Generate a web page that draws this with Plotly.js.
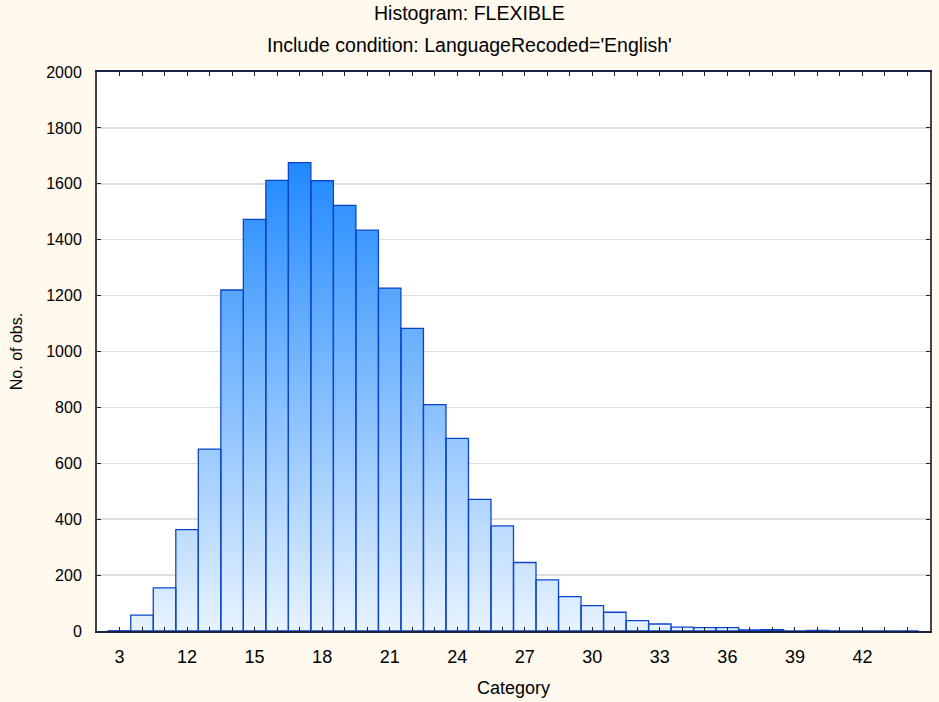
<!DOCTYPE html>
<html>
<head>
<meta charset="utf-8">
<script src="https://cdn.plot.ly/plotly-3.0.1.min.js"></script>
<style>
  html, body { margin: 0; padding: 0; background: #fff9ee; }
  #chart { width: 939px; height: 702px; }
</style>
</head>
<body>
<div id="chart"></div>
<script>
// Histogram categories (bin centres) and counts
const categories = [9, 10, 11, 12, 13, 14, 15, 16, 17, 18, 19, 20, 21, 22, 23, 24, 25, 26,
                    27, 28, 29, 30, 31, 32, 33, 34, 35, 36, 37, 38, 39, 40, 41, 42, 43, 44];
const counts = [1, 57, 154, 363, 651, 1220, 1473, 1612, 1676, 1611, 1523, 1434, 1227, 1083,
                810, 689, 471, 376, 245, 183, 123, 91, 67, 37, 25, 14, 12, 12, 4, 5, 0, 2, 0, 0, 0, 0];

// x-axis tick positions and their labels
const tickPositions = [9, 12, 15, 18, 21, 24, 27, 30, 33, 36, 39, 42];
const tickLabels = ["3", "12", "15", "18", "21", "24", "27", "30", "33", "36", "39", "42"];

const titleLine1 = "Histogram: FLEXIBLE";
const titleLine2 = "Include condition: LanguageRecoded='English'";

// derived: minor ticks at every category, labels only at tickPositions
const allTickVals = categories.slice();
const allTickText = categories.map(c => {
  const i = tickPositions.indexOf(c);
  return i >= 0 ? tickLabels[i] : "";
});

// derived: step outline for the gradient fill
const stepX = categories.map(c => c - 0.5).concat([categories[categories.length - 1] + 0.5]);
const stepY = counts.concat([counts[counts.length - 1]]);

const fillTrace = {
  type: "scatter",
  mode: "lines",
  x: stepX,
  y: stepY,
  line: { shape: "hv", width: 0, color: "rgba(0,0,0,0)" },
  fill: "tozeroy",
  fillgradient: {
    type: "vertical",
    start: 0,
    stop: 1690,
    colorscale: [[0, "#e8f3ff"], [1, "#1e88ff"]]
  },
  hoverinfo: "skip",
  showlegend: false
};

// outlines on an overlaying subplot so they sit above the gradient fill
const barTrace = {
  type: "bar",
  x: categories,
  y: counts,
  xaxis: "x2",
  yaxis: "y2",
  marker: { color: "rgba(0,0,0,0)", line: { color: "#0b45cc", width: 1.3 } },
  showlegend: false
};

const fam = "Liberation Sans, Arial, sans-serif";
const xRange = [8, 45];
const yRange = [0, 2000];
const titleX = (939 / 2 - 97) / (939 - 97 - 9); // centred on the whole figure

const layout = {
  width: 939,
  height: 702,
  paper_bgcolor: "#fff9ee",
  plot_bgcolor: "#ffffff",
  font: { family: fam, size: 16, color: "#000" },
  margin: { l: 97, r: 9, t: 72, b: 71, pad: 0 },
  bargap: 0,
  showlegend: false,
  annotations: [
    { text: titleLine1, xref: "paper", yref: "paper", x: titleX, y: 1.1055, xanchor: "center", yanchor: "middle",
      showarrow: false, font: { family: fam, size: 19.5, color: "#000" } },
    { text: titleLine2, xref: "paper", yref: "paper", x: titleX, y: 1.0483, xanchor: "center", yanchor: "middle",
      showarrow: false, font: { family: fam, size: 19.5, color: "#000" } }
  ],
  xaxis: {
    range: xRange,
    tickmode: "array",
    tickvals: allTickVals,
    ticktext: allTickText,
    ticks: "inside",
    ticklen: 4,
    tickwidth: 1,
    tickcolor: "#222",
    mirror: "ticks",
    showline: true,
    linecolor: "#1a2040",
    linewidth: 2,
    showgrid: false,
    zeroline: false,
    ticklabelstandoff: 8,
    tickfont: { family: fam, size: 18, color: "#000" },
    title: { text: "Category", font: { family: fam, size: 18, color: "#000" }, standoff: 16 }
  },
  yaxis: {
    range: yRange,
    tickmode: "linear",
    tick0: 0,
    dtick: 200,
    ticks: "inside",
    ticklen: 4,
    tickwidth: 1,
    tickcolor: "#222",
    mirror: "ticks",
    showline: true,
    linecolor: "#444",
    linewidth: 2,
    showgrid: true,
    gridcolor: "#dedede",
    gridwidth: 1.5,
    zeroline: false,
    ticklabelstandoff: 10,
    tickfont: { family: fam, size: 16, color: "#000" },
    title: { text: "No. of obs.", font: { family: fam, size: 16, color: "#000" }, standoff: 20 }
  },
  xaxis2: { overlaying: "x", range: xRange, visible: false, fixedrange: true },
  yaxis2: { overlaying: "y", range: yRange, visible: false, fixedrange: true }
};

Plotly.newPlot("chart", [fillTrace, barTrace], layout, { staticPlot: true, displayModeBar: false });
</script>
</body>
</html>
